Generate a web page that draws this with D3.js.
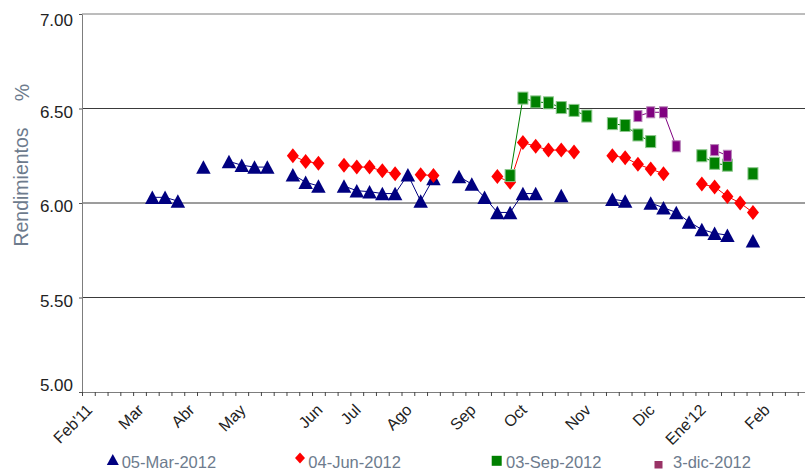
<!DOCTYPE html>
<html>
<head>
<meta charset="utf-8">
<script src="https://cdn.jsdelivr.net/npm/d3@7"></script>
<style>
  body { margin: 0; background: #fff; }
  svg { display: block; font-family: "Liberation Sans", Arial, sans-serif; }
</style>
</head>
<body>
<script>
// month labels and the weekly slot where each one sits
const monthLabels = ["Feb'11", "Mar", "Abr", "May", "Jun", "Jul", "Ago", "Sep", "Oct", "Nov", "Dic", "Ene'12", "Feb"];
const monthWeeks = [0, 4, 8, 12, 18, 21, 25, 30, 34, 39, 44, 48, 53];
const yTicks = [5.0, 5.5, 6.0, 6.5, 7.0];

const seriesNames = ["05-Mar-2012", "04-Jun-2012", "03-Sep-2012", "3-dic-2012"];

// [week, yield %]
const mar12 = [[5, 6.03], [6, 6.03], [7, 6.01], [9, 6.19], [11, 6.22], [12, 6.20], [13, 6.19], [14, 6.19],
  [16, 6.15], [17, 6.11], [18, 6.09], [20, 6.09], [21, 6.065], [22, 6.06], [23, 6.05], [24, 6.05],
  [25, 6.15], [26, 6.01], [27, 6.13], [29, 6.14], [30, 6.10], [31, 6.03], [32, 5.95], [33, 5.95],
  [34, 6.05], [35, 6.05], [37, 6.04], [41, 6.02], [42, 6.01], [44, 6.00], [45, 5.975], [46, 5.95],
  [47, 5.90], [48, 5.86], [49, 5.84], [50, 5.83], [52, 5.80]];
const jun12 = [[16, 6.25], [17, 6.22], [18, 6.21], [20, 6.20], [21, 6.19], [22, 6.19], [23, 6.17], [24, 6.155],
  [26, 6.15], [27, 6.145], [32, 6.14], [33, 6.11], [34, 6.32], [35, 6.30], [36, 6.28], [37, 6.28], [38, 6.27],
  [41, 6.25], [42, 6.24], [43, 6.205], [44, 6.18], [45, 6.155], [48, 6.10], [49, 6.085], [50, 6.035],
  [51, 6.00], [52, 5.95]];
const sep12 = [[33, 6.145], [34, 6.555], [35, 6.535], [36, 6.53], [37, 6.505], [38, 6.49], [39, 6.46],
  [41, 6.42], [42, 6.41], [43, 6.36], [44, 6.325], [48, 6.25], [49, 6.21], [50, 6.20], [52, 6.155]];
const dic12 = [[43, 6.46], [44, 6.48], [45, 6.48], [46, 6.30], [49, 6.28], [50, 6.25]];

const width = 805, height = 469;
const left = 82, step = 12.78, nSlots = 57;

const svg = d3.select('body').append('svg')
  .attr('width', width)
  .attr('height', height);

const x = d3.scaleLinear().domain([0, nSlots]).range([left, left + nSlots * step]);
const y = d3.scaleLinear().domain([5, 7]).range([392, 14]);
const cx = (w) => x(w + 0.5);

// gridlines
svg.append('g')
  .selectAll('line')
  .data(yTicks.filter((d) => d > 5))
  .enter()
  .append('line')
  .attr('x1', left)
  .attr('x2', width)
  .attr('y1', (d) => y(d))
  .attr('y2', (d) => y(d))
  .style('stroke', (d) => d === 7 ? '#7a7a7a' : '#3a3a3a')
  .style('stroke-width', 1);

// y axis
const yAxis = svg.append('g')
  .attr('transform', 'translate(' + left + ',0)')
  .call(d3.axisLeft(y).tickValues(yTicks).tickSize(3).tickSizeOuter(0).tickFormat(d3.format('.2f')));
yAxis.select('.domain').style('stroke', '#7d7d7d');
yAxis.selectAll('.tick line').style('stroke', '#555');
yAxis.selectAll('.tick text')
  .attr('x', -9)
  .attr('dy', 0)
  .attr('y', (d) => d === 7 ? 11 : d === 5 ? -1.5 : 8.5)
  .style('font-size', '17px')
  .style('fill', '#222')
  .style('font-family', '"Liberation Sans", Arial, sans-serif');

// x axis
const xAxis = svg.append('g')
  .attr('transform', 'translate(0,392)')
  .call(d3.axisBottom(x).tickValues(d3.range(nSlots + 1)).tickSize(4).tickSizeOuter(0).tickFormat(''));
xAxis.select('.domain').style('stroke', '#7d7d7d');
xAxis.selectAll('.tick line').style('stroke', '#444');

svg.append('g')
  .selectAll('text')
  .data(monthLabels)
  .enter()
  .append('text')
  .attr('transform', (d, i) => 'translate(' + (cx(monthWeeks[i]) + 5) + ',411) rotate(-45)')
  .style('text-anchor', 'end')
  .style('font-size', '16px')
  .style('fill', '#222')
  .text((d) => d);

// y title
svg.append('text')
  .attr('transform', 'translate(28,187) rotate(-90)')
  .style('text-anchor', 'middle')
  .style('font-size', '19.5px')
  .style('fill', '#6d7b8d')
  .text('Rendimientos');
svg.append('text')
  .attr('transform', 'translate(29,92.5) rotate(-90)')
  .style('text-anchor', 'middle')
  .style('font-size', '19.5px')
  .style('fill', '#6d7b8d')
  .text('%');

// markers
const triangle = (s) => 'M0,' + (-s / 2) + 'L' + (s / 2 + 0.5) + ',' + (s / 2) + 'L' + (-s / 2 - 0.5) + ',' + (s / 2) + 'Z';
const diamond = (w, h) => 'M0,' + (-h / 2) + 'L' + (w / 2) + ',0L0,' + (h / 2) + 'L' + (-w / 2) + ',0Z';

const series = [
  { name: seriesNames[0], data: mar12, color: '#000080', shape: 'tri' },
  { name: seriesNames[1], data: jun12, color: '#ff0000', shape: 'dia' },
  { name: seriesNames[2], data: sep12, color: '#008000', shape: 'sq', w: 10, h: 12, edge: '#8cc78c' },
  { name: seriesNames[3], data: dic12, color: '#800080', shape: 'sq', w: 8, h: 11, edge: '#b783b7' }
];

const line = d3.line()
  .defined((d) => d.v != null)
  .x((d) => cx(d.w))
  .y((d) => y(d.v));

series.forEach((s) => {
  const byWeek = new Map(s.data);
  const full = d3.range(53).map((w) => ({ w: w, v: byWeek.has(w) ? byWeek.get(w) : null }));

  const g = svg.append('g');

  g.append('path')
    .datum(full)
    .attr('d', line)
    .style('fill', 'none')
    .style('stroke', s.color)
    .style('stroke-width', 1);

  const pts = g.selectAll('.pt')
    .data(s.data)
    .enter();

  if (s.shape === 'sq') {
    pts.append('rect')
      .attr('x', (d) => cx(d[0]) - s.w / 2)
      .attr('y', (d) => y(d[1]) - s.h / 2)
      .attr('width', s.w)
      .attr('height', s.h)
      .style('fill', s.color)
      .style('stroke', s.edge)
      .style('stroke-width', 1);
  } else {
    pts.append('path')
      .attr('transform', (d) => 'translate(' + cx(d[0]) + ',' + y(d[1]) + ')')
      .attr('d', s.shape === 'tri' ? triangle(13.5) : diamond(12, 15))
      .style('fill', s.color);
  }
});

// legend
const legendX = [112.8, 300, 496.7, 658.5];
const legendTextX = [121.7, 308.3, 506, 673];
const legend = svg.append('g')
  .selectAll('g')
  .data(series)
  .enter()
  .append('g');

legend.each(function (s, i) {
  const g = d3.select(this);
  if (i === 0) {
    g.append('path').attr('transform', 'translate(' + legendX[i] + ',459.5)').attr('d', triangle(11)).style('fill', s.color);
  } else if (i === 1) {
    g.append('path').attr('transform', 'translate(' + legendX[i] + ',458)').attr('d', diamond(10, 11)).style('fill', s.color);
  } else if (i === 2) {
    g.append('rect').attr('x', legendX[i] - 5).attr('y', 455.8).attr('width', 10).attr('height', 10).style('fill', s.color);
  } else {
    g.append('rect').attr('x', legendX[i] - 4).attr('y', 461).attr('width', 8).attr('height', 7.5).style('fill', '#993366');
  }
  g.append('text')
    .attr('x', legendTextX[i])
    .attr('y', 467.5)
    .style('font-size', '16.5px')
    .style('fill', '#6d7b8d')
    .text(s.name);
});
</script>
</body>
</html>
